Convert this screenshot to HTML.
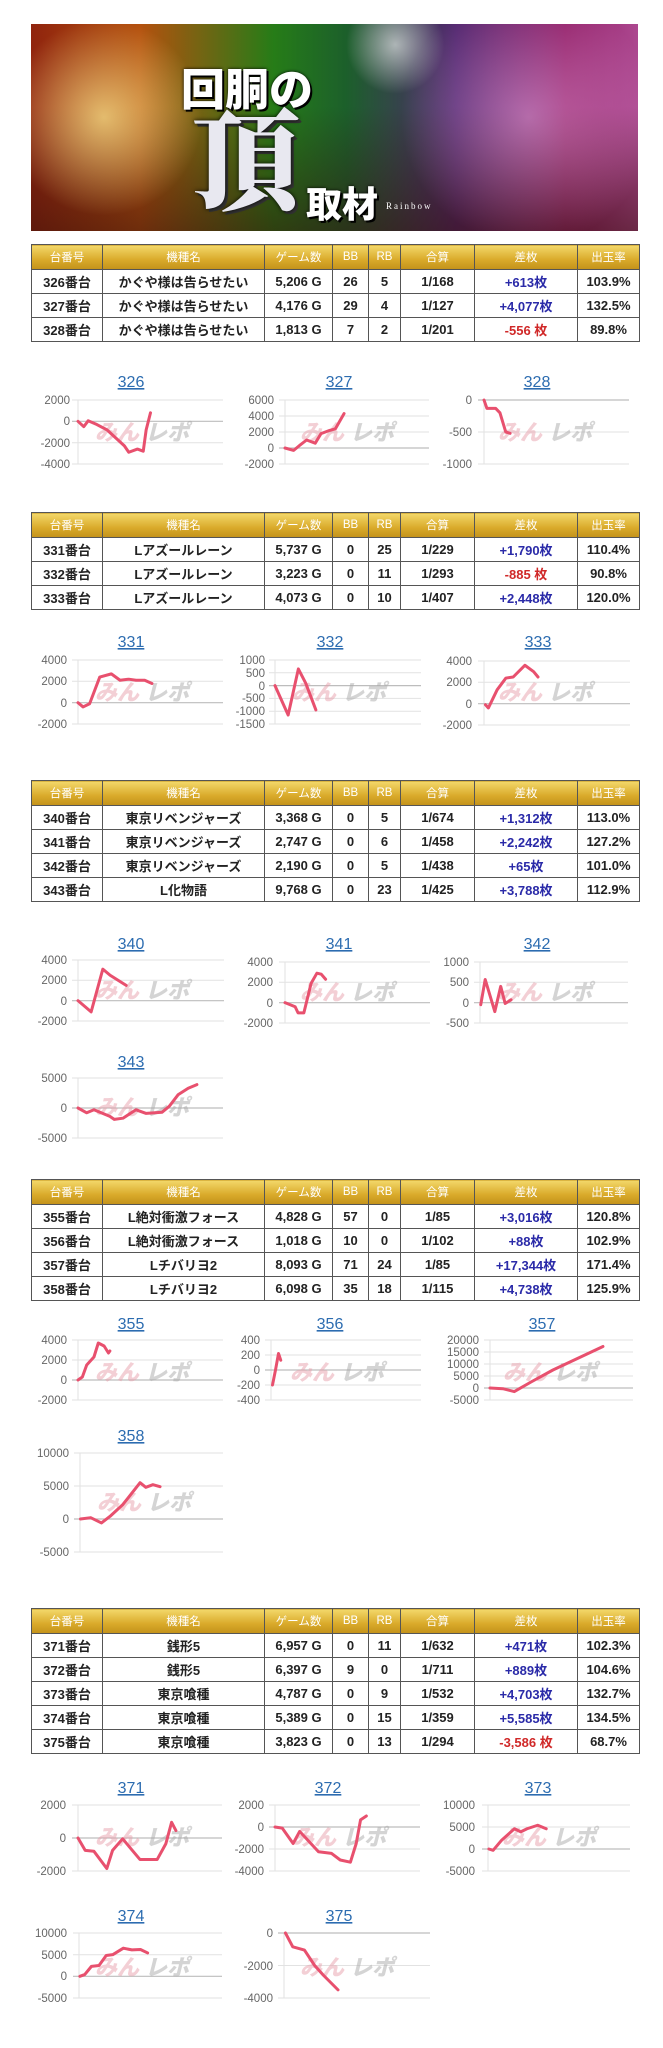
<!DOCTYPE html>
<html><head><meta charset="utf-8">
<style>
body{margin:0;width:663px;height:2048px;background:#fff;position:relative;overflow:hidden;font-family:"Liberation Sans","Noto Sans CJK JP",sans-serif}
.ban{position:absolute;left:31px;top:24px;width:607px;height:207px;overflow:hidden;
background:linear-gradient(90deg,#a02810 0%,#c85a10 18%,#2a8a1a 40%,#1f6a30 52%,#5a2a7a 70%,#a02070 88%,#c050a0 100%)}
.ban .ov{position:absolute;inset:0;background:radial-gradient(circle at 12% 45%,rgba(255,240,150,.7),transparent 18%),radial-gradient(circle at 60% 10%,rgba(255,255,255,.6),transparent 12%),radial-gradient(circle at 82% 45%,rgba(255,200,255,.45),transparent 25%),linear-gradient(180deg,rgba(0,0,0,.1) 40%,rgba(50,15,10,.6) 100%)}
.ban .t1{position:absolute;left:150px;top:30px;font:900 44px "Noto Sans CJK JP",sans-serif;color:#fff;text-shadow:0 0 3px #000,2px 2px 0 #000}
.ban .t2{position:absolute;left:160px;top:64px;font:900 110px "Noto Serif CJK SC",serif;color:#e8e8f0;text-shadow:0 0 4px #000,3px 3px 0 #333;line-height:1.2}
.ban .t3{position:absolute;left:275px;top:152px;font:900 36px "Noto Sans CJK JP",sans-serif;color:#fff;text-shadow:0 0 3px #000,2px 2px 0 #000}
.ban .t4{position:absolute;left:355px;top:177px;font:9px "Liberation Serif",serif;color:#fff;letter-spacing:2px}
table{position:absolute;left:31px;width:608px;border-collapse:collapse;table-layout:fixed}
td,th{border:1px solid #555;text-align:center;padding:0;font-size:13px;color:#222;white-space:nowrap;overflow:hidden}
th{background:linear-gradient(180deg,#f3d86a,#d9aa2a 60%,#c3921a);color:#fff;font-weight:normal;font-size:11.5px;height:24px}
td{height:23px;font-weight:600}
.b{color:#2a2aa8}.r{color:#d02828}
svg.main{position:absolute;left:0;top:0}
.g{stroke:#e2e2e2;stroke-width:1}
.z{stroke:#bdbdbd;stroke-width:1.2}
.ax{stroke:#e2e2e2}
.t{font:11.5px "Liberation Sans",sans-serif;fill:#666;text-anchor:end}
.ti{font:16px "Liberation Sans",sans-serif;fill:#2c6cb0;text-anchor:middle;text-decoration:underline}
.w{font:italic 900 22px "Noto Sans CJK JP",sans-serif;fill:#e8a0ac;opacity:.5}
.w2{font:italic 900 22px "Noto Sans CJK JP",sans-serif;fill:#aaa;opacity:.5}
.s{fill:none;stroke:#e8506e;stroke-width:3;vector-effect:non-scaling-stroke;stroke-linejoin:round;stroke-linecap:round}
</style></head><body>
<div class="ban"><div class="ov"></div><div class="t1">回胴の</div><div class="t2">頂</div><div class="t3">取材</div><div class="t4">Rainbow</div></div>

<table style="top:244px">
<colgroup><col style="width:71px"><col style="width:162px"><col style="width:68px"><col style="width:36px"><col style="width:32px"><col style="width:74px"><col style="width:103px"><col style="width:62px"></colgroup>
<tr><th>台番号</th><th>機種名</th><th>ゲーム数</th><th>BB</th><th>RB</th><th>合算</th><th>差枚</th><th>出玉率</th></tr>
<tr><td>326番台</td><td>かぐや様は告らせたい</td><td>5,206 G</td><td>26</td><td>5</td><td>1/168</td><td class="b">+613枚</td><td>103.9%</td></tr>
<tr><td>327番台</td><td>かぐや様は告らせたい</td><td>4,176 G</td><td>29</td><td>4</td><td>1/127</td><td class="b">+4,077枚</td><td>132.5%</td></tr>
<tr><td>328番台</td><td>かぐや様は告らせたい</td><td>1,813 G</td><td>7</td><td>2</td><td>1/201</td><td class="r">-556 枚</td><td>89.8%</td></tr>
</table>

<table style="top:512px">
<colgroup><col style="width:71px"><col style="width:162px"><col style="width:68px"><col style="width:36px"><col style="width:32px"><col style="width:74px"><col style="width:103px"><col style="width:62px"></colgroup>
<tr><th>台番号</th><th>機種名</th><th>ゲーム数</th><th>BB</th><th>RB</th><th>合算</th><th>差枚</th><th>出玉率</th></tr>
<tr><td>331番台</td><td>Lアズールレーン</td><td>5,737 G</td><td>0</td><td>25</td><td>1/229</td><td class="b">+1,790枚</td><td>110.4%</td></tr>
<tr><td>332番台</td><td>Lアズールレーン</td><td>3,223 G</td><td>0</td><td>11</td><td>1/293</td><td class="r">-885 枚</td><td>90.8%</td></tr>
<tr><td>333番台</td><td>Lアズールレーン</td><td>4,073 G</td><td>0</td><td>10</td><td>1/407</td><td class="b">+2,448枚</td><td>120.0%</td></tr>
</table>

<table style="top:780px">
<colgroup><col style="width:71px"><col style="width:162px"><col style="width:68px"><col style="width:36px"><col style="width:32px"><col style="width:74px"><col style="width:103px"><col style="width:62px"></colgroup>
<tr><th>台番号</th><th>機種名</th><th>ゲーム数</th><th>BB</th><th>RB</th><th>合算</th><th>差枚</th><th>出玉率</th></tr>
<tr><td>340番台</td><td>東京リベンジャーズ</td><td>3,368 G</td><td>0</td><td>5</td><td>1/674</td><td class="b">+1,312枚</td><td>113.0%</td></tr>
<tr><td>341番台</td><td>東京リベンジャーズ</td><td>2,747 G</td><td>0</td><td>6</td><td>1/458</td><td class="b">+2,242枚</td><td>127.2%</td></tr>
<tr><td>342番台</td><td>東京リベンジャーズ</td><td>2,190 G</td><td>0</td><td>5</td><td>1/438</td><td class="b">+65枚</td><td>101.0%</td></tr>
<tr><td>343番台</td><td>L化物語</td><td>9,768 G</td><td>0</td><td>23</td><td>1/425</td><td class="b">+3,788枚</td><td>112.9%</td></tr>
</table>

<table style="top:1179px">
<colgroup><col style="width:71px"><col style="width:162px"><col style="width:68px"><col style="width:36px"><col style="width:32px"><col style="width:74px"><col style="width:103px"><col style="width:62px"></colgroup>
<tr><th>台番号</th><th>機種名</th><th>ゲーム数</th><th>BB</th><th>RB</th><th>合算</th><th>差枚</th><th>出玉率</th></tr>
<tr><td>355番台</td><td>L絶対衝激フォース</td><td>4,828 G</td><td>57</td><td>0</td><td>1/85</td><td class="b">+3,016枚</td><td>120.8%</td></tr>
<tr><td>356番台</td><td>L絶対衝激フォース</td><td>1,018 G</td><td>10</td><td>0</td><td>1/102</td><td class="b">+88枚</td><td>102.9%</td></tr>
<tr><td>357番台</td><td>Lチバリヨ2</td><td>8,093 G</td><td>71</td><td>24</td><td>1/85</td><td class="b">+17,344枚</td><td>171.4%</td></tr>
<tr><td>358番台</td><td>Lチバリヨ2</td><td>6,098 G</td><td>35</td><td>18</td><td>1/115</td><td class="b">+4,738枚</td><td>125.9%</td></tr>
</table>

<table style="top:1608px">
<colgroup><col style="width:71px"><col style="width:162px"><col style="width:68px"><col style="width:36px"><col style="width:32px"><col style="width:74px"><col style="width:103px"><col style="width:62px"></colgroup>
<tr><th>台番号</th><th>機種名</th><th>ゲーム数</th><th>BB</th><th>RB</th><th>合算</th><th>差枚</th><th>出玉率</th></tr>
<tr><td>371番台</td><td>銭形5</td><td>6,957 G</td><td>0</td><td>11</td><td>1/632</td><td class="b">+471枚</td><td>102.3%</td></tr>
<tr><td>372番台</td><td>銭形5</td><td>6,397 G</td><td>9</td><td>0</td><td>1/711</td><td class="b">+889枚</td><td>104.6%</td></tr>
<tr><td>373番台</td><td>東京喰種</td><td>4,787 G</td><td>0</td><td>9</td><td>1/532</td><td class="b">+4,703枚</td><td>132.7%</td></tr>
<tr><td>374番台</td><td>東京喰種</td><td>5,389 G</td><td>0</td><td>15</td><td>1/359</td><td class="b">+5,585枚</td><td>134.5%</td></tr>
<tr><td>375番台</td><td>東京喰種</td><td>3,823 G</td><td>0</td><td>13</td><td>1/294</td><td class="r">-3,586 枚</td><td>68.7%</td></tr>
</table>

<svg class="main" width="663" height="2048" viewBox="0 0 663 2048">
<!-- 326 -->
<text class="ti" x="131" y="387">326</text>
<line class="ax" x1="78" y1="400" x2="78" y2="464"/>
<line class="g" x1="72" y1="400" x2="223" y2="400"/><line class="z" x1="72" y1="421.3" x2="223" y2="421.3"/><line class="g" x1="72" y1="442.7" x2="223" y2="442.7"/><line class="g" x1="72" y1="464" x2="223" y2="464"/>
<text class="t" x="70" y="404">2000</text><text class="t" x="70" y="425">0</text><text class="t" x="70" y="447">-2000</text><text class="t" x="70" y="468">-4000</text>
<text class="w" x="95" y="440">みん</text><text class="w2" x="145" y="440">レポ</text>
<svg x="78" y="400" width="145" height="64" viewBox="0 -2000 1 6000" preserveAspectRatio="none" overflow="visible"><polyline class="s" points="0,0 .04,500 .07,-50 .13,300 .2,800 .32,2300 .35,2900 .41,2600 .45,2800 .47,800 .5,-800"/></svg>
<!-- 327 -->
<text class="ti" x="339" y="387">327</text>
<line class="ax" x1="285" y1="400" x2="285" y2="464"/>
<line class="g" x1="279" y1="400" x2="429" y2="400"/><line class="g" x1="279" y1="416" x2="429" y2="416"/><line class="g" x1="279" y1="432" x2="429" y2="432"/><line class="z" x1="279" y1="448" x2="429" y2="448"/><line class="g" x1="279" y1="464" x2="429" y2="464"/>
<text class="t" x="274" y="404">6000</text><text class="t" x="274" y="420">4000</text><text class="t" x="274" y="436">2000</text><text class="t" x="274" y="452">0</text><text class="t" x="274" y="468">-2000</text>
<text class="w" x="300" y="440">みん</text><text class="w2" x="350" y="440">レポ</text>
<svg x="285" y="400" width="144" height="64" viewBox="0 -6000 1 8000" preserveAspectRatio="none" overflow="visible"><polyline class="s" points="0,0 .06,300 .1,-300 .15,-1000 .21,-600 .25,-1800 .31,-2200 .35,-2400 .41,-4300"/></svg>
<!-- 328 -->
<text class="ti" x="537" y="387">328</text>
<line class="ax" x1="484" y1="400" x2="484" y2="464"/>
<line class="z" x1="478" y1="400" x2="629" y2="400"/><line class="g" x1="478" y1="432" x2="629" y2="432"/><line class="g" x1="478" y1="464" x2="629" y2="464"/>
<text class="t" x="472" y="404">0</text><text class="t" x="472" y="436">-500</text><text class="t" x="472" y="468">-1000</text>
<text class="w" x="498" y="440">みん</text><text class="w2" x="548" y="440">レポ</text>
<svg x="484" y="400" width="145" height="64" viewBox="0 0 1 1000" preserveAspectRatio="none" overflow="visible"><polyline class="s" points="0,0 .02,130 .08,130 .11,200 .15,500 .18,520"/></svg>

<!-- 331 -->
<text class="ti" x="131" y="647">331</text>
<line class="ax" x1="78" y1="660" x2="78" y2="724"/>
<line class="g" x1="72" y1="660" x2="223" y2="660"/><line class="g" x1="72" y1="681.3" x2="223" y2="681.3"/><line class="z" x1="72" y1="702.7" x2="223" y2="702.7"/><line class="g" x1="72" y1="724" x2="223" y2="724"/>
<text class="t" x="67" y="664">4000</text><text class="t" x="67" y="685">2000</text><text class="t" x="67" y="707">0</text><text class="t" x="67" y="728">-2000</text>
<text class="w" x="95" y="700">みん</text><text class="w2" x="145" y="700">レポ</text>
<svg x="78" y="660" width="145" height="64" viewBox="0 -4000 1 6000" preserveAspectRatio="none" overflow="visible"><polyline class="s" points="0,0 .035,400 .08,100 .15,-2400 .23,-2700 .29,-2100 .35,-2200 .4,-2100 .46,-2100 .51,-1800"/></svg>
<!-- 332 -->
<text class="ti" x="330" y="647">332</text>
<line class="ax" x1="275" y1="660" x2="275" y2="724"/>
<line class="g" x1="269" y1="660" x2="421" y2="660"/><line class="g" x1="269" y1="672.8" x2="421" y2="672.8"/><line class="z" x1="269" y1="685.6" x2="421" y2="685.6"/><line class="g" x1="269" y1="698.4" x2="421" y2="698.4"/><line class="g" x1="269" y1="711.2" x2="421" y2="711.2"/><line class="g" x1="269" y1="724" x2="421" y2="724"/>
<text class="t" x="265" y="664">1000</text><text class="t" x="265" y="677">500</text><text class="t" x="265" y="690">0</text><text class="t" x="265" y="702">-500</text><text class="t" x="265" y="715">-1000</text><text class="t" x="265" y="728">-1500</text>
<text class="w" x="292" y="700">みん</text><text class="w2" x="342" y="700">レポ</text>
<svg x="275" y="660" width="146" height="64" viewBox="0 -1000 1 2500" preserveAspectRatio="none" overflow="visible"><polyline class="s" points="0,0 .09,1150 .16,-650 .21,-100 .28,950"/></svg>
<!-- 333 -->
<text class="ti" x="538" y="647">333</text>
<line class="ax" x1="484" y1="661" x2="484" y2="725"/>
<line class="g" x1="478" y1="661" x2="630" y2="661"/><line class="g" x1="478" y1="682.3" x2="630" y2="682.3"/><line class="z" x1="478" y1="703.7" x2="630" y2="703.7"/><line class="g" x1="478" y1="725" x2="630" y2="725"/>
<text class="t" x="472" y="665">4000</text><text class="t" x="472" y="686">2000</text><text class="t" x="472" y="708">0</text><text class="t" x="472" y="729">-2000</text>
<text class="w" x="498" y="700">みん</text><text class="w2" x="548" y="700">レポ</text>
<svg x="484" y="661" width="146" height="64" viewBox="0 -4000 1 6000" preserveAspectRatio="none" overflow="visible"><polyline class="s" points=".01,100 .03,400 .09,-1300 .15,-2400 .2,-2500 .28,-3600 .34,-3000 .37,-2500"/></svg>

<!-- 340 -->
<text class="ti" x="131" y="949">340</text>
<line class="ax" x1="78" y1="960" x2="78" y2="1021"/>
<line class="g" x1="72" y1="960" x2="224" y2="960"/><line class="g" x1="72" y1="980.3" x2="224" y2="980.3"/><line class="z" x1="72" y1="1000.7" x2="224" y2="1000.7"/><line class="g" x1="72" y1="1021" x2="224" y2="1021"/>
<text class="t" x="67" y="964">4000</text><text class="t" x="67" y="984">2000</text><text class="t" x="67" y="1005">0</text><text class="t" x="67" y="1025">-2000</text>
<text class="w" x="95" y="998">みん</text><text class="w2" x="145" y="998">レポ</text>
<svg x="78" y="960" width="146" height="61" viewBox="0 -4000 1 6000" preserveAspectRatio="none" overflow="visible"><polyline class="s" points="0,0 .09,1100 .17,-3100 .22,-2500 .33,-1500"/></svg>
<!-- 341 -->
<text class="ti" x="339" y="949">341</text>
<line class="ax" x1="285" y1="962" x2="285" y2="1023"/>
<line class="g" x1="279" y1="962" x2="430" y2="962"/><line class="g" x1="279" y1="982.3" x2="430" y2="982.3"/><line class="z" x1="279" y1="1002.7" x2="430" y2="1002.7"/><line class="g" x1="279" y1="1023" x2="430" y2="1023"/>
<text class="t" x="273" y="966">4000</text><text class="t" x="273" y="986">2000</text><text class="t" x="273" y="1007">0</text><text class="t" x="273" y="1027">-2000</text>
<text class="w" x="300" y="1000">みん</text><text class="w2" x="350" y="1000">レポ</text>
<svg x="285" y="962" width="145" height="61" viewBox="0 -4000 1 6000" preserveAspectRatio="none" overflow="visible"><polyline class="s" points="0,0 .07,400 .09,1000 .13,1000 .18,-1900 .22,-2900 .25,-2800 .28,-2300"/></svg>
<!-- 342 -->
<text class="ti" x="537" y="949">342</text>
<line class="ax" x1="480" y1="962" x2="480" y2="1023"/>
<line class="g" x1="474" y1="962" x2="628" y2="962"/><line class="g" x1="474" y1="982.3" x2="628" y2="982.3"/><line class="z" x1="474" y1="1002.7" x2="628" y2="1002.7"/><line class="g" x1="474" y1="1023" x2="628" y2="1023"/>
<text class="t" x="469" y="966">1000</text><text class="t" x="469" y="986">500</text><text class="t" x="469" y="1007">0</text><text class="t" x="469" y="1027">-500</text>
<text class="w" x="498" y="1000">みん</text><text class="w2" x="548" y="1000">レポ</text>
<svg x="480" y="962" width="148" height="61" viewBox="0 -1000 1 1500" preserveAspectRatio="none" overflow="visible"><polyline class="s" points=".005,50 .035,-570 .1,220 .14,-400 .17,20 .21,-70"/></svg>

<!-- 343 -->
<text class="ti" x="131" y="1067">343</text>
<line class="ax" x1="78" y1="1078" x2="78" y2="1138"/>
<line class="g" x1="72" y1="1078" x2="223" y2="1078"/><line class="z" x1="72" y1="1108" x2="223" y2="1108"/><line class="g" x1="72" y1="1138" x2="223" y2="1138"/>
<text class="t" x="67" y="1082">5000</text><text class="t" x="67" y="1112">0</text><text class="t" x="67" y="1142">-5000</text>
<text class="w" x="95" y="1115">みん</text><text class="w2" x="145" y="1115">レポ</text>
<svg x="78" y="1078" width="145" height="60" viewBox="0 -5000 1 10000" preserveAspectRatio="none" overflow="visible"><polyline class="s" points="0,0 .06,800 .11,300 .22,1400 .25,1900 .31,1700 .4,300 .47,900 .58,700 .63,-300 .69,-2200 .76,-3300 .82,-3900"/></svg>

<!-- 355 -->
<text class="ti" x="131" y="1329">355</text>
<line class="ax" x1="78" y1="1340" x2="78" y2="1400"/>
<line class="g" x1="72" y1="1340" x2="223" y2="1340"/><line class="g" x1="72" y1="1360" x2="223" y2="1360"/><line class="z" x1="72" y1="1380" x2="223" y2="1380"/><line class="g" x1="72" y1="1400" x2="223" y2="1400"/>
<text class="t" x="67" y="1344">4000</text><text class="t" x="67" y="1364">2000</text><text class="t" x="67" y="1384">0</text><text class="t" x="67" y="1404">-2000</text>
<text class="w" x="95" y="1380">みん</text><text class="w2" x="145" y="1380">レポ</text>
<svg x="78" y="1340" width="145" height="60" viewBox="0 -4000 1 6000" preserveAspectRatio="none" overflow="visible"><polyline class="s" points="0,0 .03,-300 .06,-1500 .11,-2300 .14,-3700 .18,-3400 .21,-2700 .22,-2900"/></svg>
<!-- 356 -->
<text class="ti" x="330" y="1329">356</text>
<line class="ax" x1="271" y1="1340" x2="271" y2="1400"/>
<line class="g" x1="265" y1="1340" x2="421" y2="1340"/><line class="g" x1="265" y1="1355" x2="421" y2="1355"/><line class="z" x1="265" y1="1370" x2="421" y2="1370"/><line class="g" x1="265" y1="1385" x2="421" y2="1385"/><line class="g" x1="265" y1="1400" x2="421" y2="1400"/>
<text class="t" x="260" y="1344">400</text><text class="t" x="260" y="1359">200</text><text class="t" x="260" y="1374">0</text><text class="t" x="260" y="1389">-200</text><text class="t" x="260" y="1404">-400</text>
<text class="w" x="290" y="1380">みん</text><text class="w2" x="340" y="1380">レポ</text>
<svg x="271" y="1340" width="150" height="60" viewBox="0 -400 1 800" preserveAspectRatio="none" overflow="visible"><polyline class="s" points=".01,200 .03,0 .05,-220 .065,-130"/></svg>
<!-- 357 -->
<text class="ti" x="542" y="1329">357</text>
<line class="ax" x1="490" y1="1340" x2="490" y2="1400"/>
<line class="g" x1="484" y1="1340" x2="633" y2="1340"/><line class="g" x1="484" y1="1352" x2="633" y2="1352"/><line class="g" x1="484" y1="1364" x2="633" y2="1364"/><line class="g" x1="484" y1="1376" x2="633" y2="1376"/><line class="z" x1="484" y1="1388" x2="633" y2="1388"/><line class="g" x1="484" y1="1400" x2="633" y2="1400"/>
<text class="t" x="479" y="1344">20000</text><text class="t" x="479" y="1356">15000</text><text class="t" x="479" y="1368">10000</text><text class="t" x="479" y="1380">5000</text><text class="t" x="479" y="1392">0</text><text class="t" x="479" y="1404">-5000</text>
<text class="w" x="503" y="1380">みん</text><text class="w2" x="553" y="1380">レポ</text>
<svg x="490" y="1340" width="143" height="60" viewBox="0 -20000 1 25000" preserveAspectRatio="none" overflow="visible"><polyline class="s" points="0,0 .09,300 .17,1500 .29,-2600 .44,-7500 .79,-17300"/></svg>

<!-- 358 -->
<text class="ti" x="131" y="1441">358</text>
<line class="ax" x1="80" y1="1453" x2="80" y2="1552"/>
<line class="g" x1="74" y1="1453" x2="223" y2="1453"/><line class="g" x1="74" y1="1486" x2="223" y2="1486"/><line class="z" x1="74" y1="1519" x2="223" y2="1519"/><line class="g" x1="74" y1="1552" x2="223" y2="1552"/>
<text class="t" x="69" y="1457">10000</text><text class="t" x="69" y="1490">5000</text><text class="t" x="69" y="1523">0</text><text class="t" x="69" y="1556">-5000</text>
<text class="w" x="97" y="1510">みん</text><text class="w2" x="147" y="1510">レポ</text>
<svg x="80" y="1453" width="143" height="99" viewBox="0 -10000 1 15000" preserveAspectRatio="none" overflow="visible"><polyline class="s" points=".003,0 .075,-200 .15,600 .21,-400 .3,-2200 .42,-5500 .46,-4800 .51,-5200 .56,-4900"/></svg>

<!-- 371 -->
<text class="ti" x="131" y="1793">371</text>
<line class="ax" x1="78" y1="1805" x2="78" y2="1871"/>
<line class="g" x1="72" y1="1805" x2="222" y2="1805"/><line class="z" x1="72" y1="1838" x2="222" y2="1838"/><line class="g" x1="72" y1="1871" x2="222" y2="1871"/>
<text class="t" x="66" y="1809">2000</text><text class="t" x="66" y="1842">0</text><text class="t" x="66" y="1875">-2000</text>
<text class="w" x="95" y="1845">みん</text><text class="w2" x="145" y="1845">レポ</text>
<svg x="78" y="1805" width="144" height="66" viewBox="0 -2000 1 4000" preserveAspectRatio="none" overflow="visible"><polyline class="s" points="0,0 .05,750 .11,800 .2,1850 .24,750 .31,50 .43,1300 .55,1300 .61,350 .65,-950 .68,-450"/></svg>
<!-- 372 -->
<text class="ti" x="328" y="1793">372</text>
<line class="ax" x1="275" y1="1805" x2="275" y2="1871"/>
<line class="g" x1="269" y1="1805" x2="420" y2="1805"/><line class="z" x1="269" y1="1827" x2="420" y2="1827"/><line class="g" x1="269" y1="1849" x2="420" y2="1849"/><line class="g" x1="269" y1="1871" x2="420" y2="1871"/>
<text class="t" x="264" y="1809">2000</text><text class="t" x="264" y="1831">0</text><text class="t" x="264" y="1853">-2000</text><text class="t" x="264" y="1875">-4000</text>
<text class="w" x="292" y="1845">みん</text><text class="w2" x="342" y="1845">レポ</text>
<svg x="275" y="1805" width="145" height="66" viewBox="0 -2000 1 6000" preserveAspectRatio="none" overflow="visible"><polyline class="s" points="0,0 .05,100 .125,1500 .17,400 .3,2250 .39,2400 .45,3000 .52,3200 .56,1500 .59,-650 .63,-1000"/></svg>
<!-- 373 -->
<text class="ti" x="538" y="1793">373</text>
<line class="ax" x1="488" y1="1805" x2="488" y2="1871"/>
<line class="g" x1="482" y1="1805" x2="630" y2="1805"/><line class="g" x1="482" y1="1827" x2="630" y2="1827"/><line class="z" x1="482" y1="1849" x2="630" y2="1849"/><line class="g" x1="482" y1="1871" x2="630" y2="1871"/>
<text class="t" x="475" y="1809">10000</text><text class="t" x="475" y="1831">5000</text><text class="t" x="475" y="1853">0</text><text class="t" x="475" y="1875">-5000</text>
<text class="w" x="502" y="1845">みん</text><text class="w2" x="552" y="1845">レポ</text>
<svg x="488" y="1805" width="142" height="66" viewBox="0 -10000 1 15000" preserveAspectRatio="none" overflow="visible"><polyline class="s" points=".006,0 .036,300 .096,-2000 .186,-4600 .23,-3900 .275,-4600 .35,-5400 .41,-4600"/></svg>

<!-- 374 -->
<text class="ti" x="131" y="1921">374</text>
<line class="ax" x1="79" y1="1933" x2="79" y2="1998"/>
<line class="g" x1="73" y1="1933" x2="222" y2="1933"/><line class="g" x1="73" y1="1954.7" x2="222" y2="1954.7"/><line class="z" x1="73" y1="1976.3" x2="222" y2="1976.3"/><line class="g" x1="73" y1="1998" x2="222" y2="1998"/>
<text class="t" x="67" y="1937">10000</text><text class="t" x="67" y="1959">5000</text><text class="t" x="67" y="1980">0</text><text class="t" x="67" y="2002">-5000</text>
<text class="w" x="95" y="1975">みん</text><text class="w2" x="145" y="1975">レポ</text>
<svg x="79" y="1933" width="143" height="65" viewBox="0 -10000 1 15000" preserveAspectRatio="none" overflow="visible"><polyline class="s" points=".006,0 .04,-400 .087,-2300 .14,-2500 .19,-4800 .236,-5000 .31,-6500 .37,-6100 .43,-6200 .48,-5400"/></svg>
<!-- 375 -->
<text class="ti" x="339" y="1921">375</text>
<line class="ax" x1="284" y1="1933" x2="284" y2="1998"/>
<line class="z" x1="278" y1="1933" x2="430" y2="1933"/><line class="g" x1="278" y1="1965.5" x2="430" y2="1965.5"/><line class="g" x1="278" y1="1998" x2="430" y2="1998"/>
<text class="t" x="273" y="1937">0</text><text class="t" x="273" y="1970">-2000</text><text class="t" x="273" y="2002">-4000</text>
<text class="w" x="300" y="1975">みん</text><text class="w2" x="350" y="1975">レポ</text>
<svg x="284" y="1933" width="146" height="65" viewBox="0 0 1 4000" preserveAspectRatio="none" overflow="visible"><polyline class="s" points=".01,0 .06,850 .14,1050 .21,2000 .27,2600 .37,3500"/></svg>
</svg>
</body></html>
